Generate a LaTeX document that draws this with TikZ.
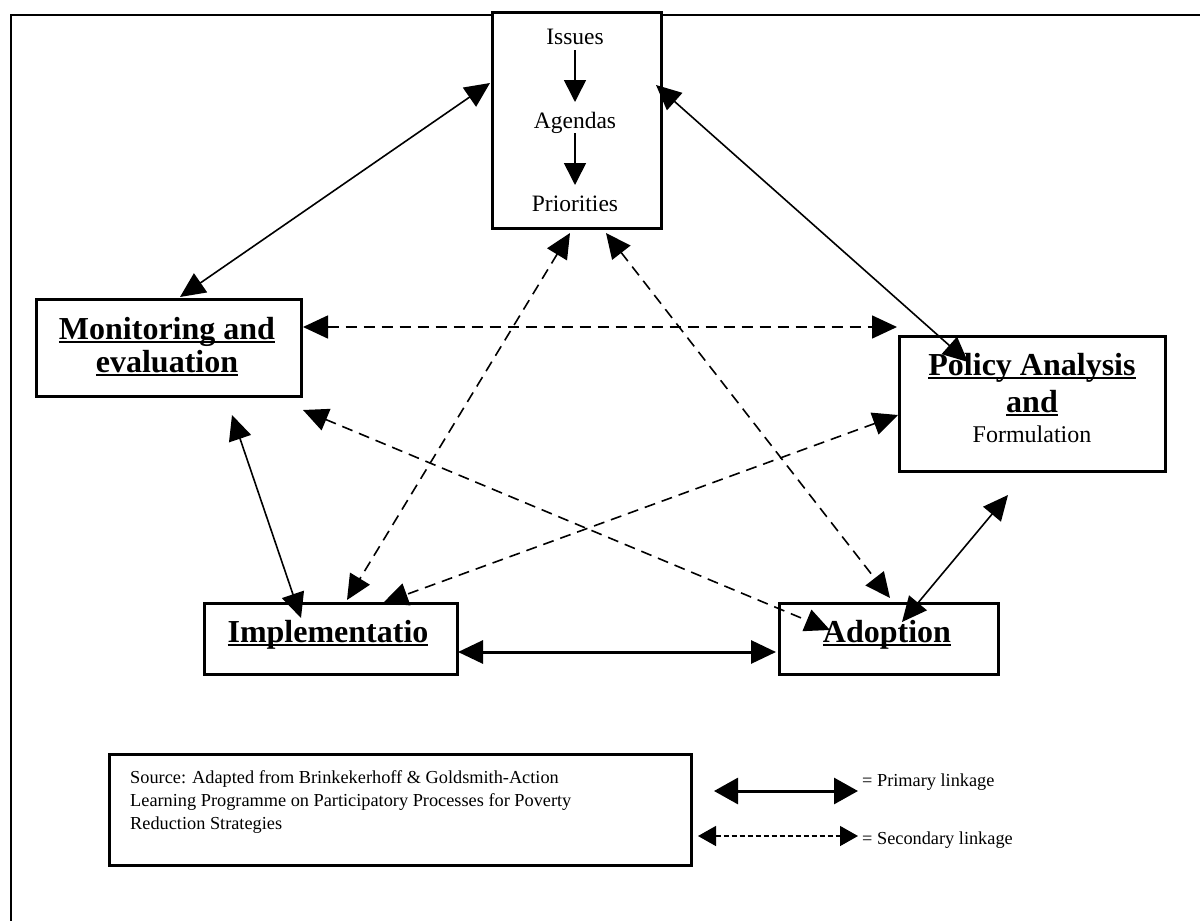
\documentclass[tikz,border=0pt]{standalone}
\usepackage{fontspec}
\setmainfont{Liberation Serif}
\usetikzlibrary{arrows.meta}
\newcommand\myul[1]{\setbox0\hbox{#1}\rlap{\rule[-3.5pt]{\wd0}{2pt}}\box0}
\tikzset{
 box/.style={draw, line width=2.5pt, fill=white, inner sep=0, anchor=north west},
 lbl/.style={anchor=base, inner sep=0, font=\fontsize{32}{32}\selectfont\bfseries},
 txt/.style={anchor=base, inner sep=0, font=\fontsize{23.5}{24}\selectfont},
 small/.style={anchor=base west, inner sep=0, font=\fontsize{18.3}{20}\selectfont},
 prim/.style={line width=1.6pt, {Triangle[length=25pt,width=23pt]}-{Triangle[length=25pt,width=23pt]}},
 sec/.style={prim, dash pattern=on 11pt off 7pt},
 inner/.style={line width=1.6pt, -{Triangle[length=22pt,width=22pt]}},
}
\begin{document}
\begin{tikzpicture}[x=1pt,y=-1pt]
\useasboundingbox (0,0) rectangle (1200,921);
% outer frame
\draw[line width=2.7pt] (11,921) -- (11,15) -- (1200,15);
% boxes
\node[box, minimum width=169pt, minimum height=216pt] (top) at (491,11) {};
\node[box, minimum width=265pt, minimum height=97pt] (mon) at (35,298) {};
\node[box, minimum width=266pt, minimum height=135pt] (pol) at (898,335) {};
\node[box, minimum width=253pt, minimum height=71pt] (imp) at (203,602) {};
\node[box, minimum width=219pt, minimum height=71pt] (ado) at (778,602) {};
\node[box, minimum width=582pt, minimum height=111pt] (src) at (108,753) {};
% texts
\node[txt] (iss) at (575,44) {Issues};
\node[txt] (age) at (575,128) {Agendas};
\node[txt] (pri) at (575,211) {Priorities};
\node[lbl] (mon1) at (167,339) {\myul{Monitoring and}};
\node[lbl] (mon2) at (167,372) {\myul{evaluation}};
\node[lbl] (pol1) at (1032,375) {\myul{Policy Analysis}};
\node[lbl] (pol2) at (1032,412) {\myul{and}};
\node[txt, font=\fontsize{24}{24}\selectfont] (pol3) at (1032,442) {Formulation};
\node[lbl] (impt) at (328,642) {\myul{Implementatio}};
\node[lbl] (adot) at (887,642) {\myul{Adoption}};
\node[small] (s1) at (130,783) {Source: Adapted from Brinkekerhoff \& Goldsmith-Action};
\node[small] (s2) at (130,806) {Learning Programme on Participatory Processes for Poverty};
\node[small] (s3) at (130,829) {Reduction Strategies};
\node[small] (l1) at (862,786) {= Primary linkage};
\node[small] (l2) at (862,844) {= Secondary linkage};
% inner arrows
\draw[inner] (575,50) -- (575,102);
\draw[inner] (575,133) -- (575,185);
% connector end points
\coordinate (c1a) at (490,83);  \coordinate (c1b) at (180,297);
\coordinate (c2a) at (656,85);  \coordinate (c2b) at (968,362);
\coordinate (c3a) at (303,327); \coordinate (c3b) at (897,327);
\coordinate (c4a) at (303,410); \coordinate (c4b) at (830,630);
\coordinate (c5a) at (898,415); \coordinate (c5b) at (383,603);
\coordinate (c6a) at (570,233); \coordinate (c6b) at (347,600);
\coordinate (c7a) at (606,233); \coordinate (c7b) at (890,598);
\coordinate (c8a) at (1008,495); \coordinate (c8b) at (902,622);
\coordinate (c9a) at (232,415); \coordinate (c9b) at (301,618);
\coordinate (c10a) at (458,652); \coordinate (c10b) at (776,652);
\draw[prim] (c1a) -- (c1b);
\draw[prim] (c2a) -- (c2b);
\draw[sec] (c3a) -- (c3b);
\draw[sec] (c4a) -- (c4b);
\draw[sec] (c5a) -- (c5b);
\draw[sec] (c6a) -- (c6b);
\draw[sec] (c7a) -- (c7b);
\draw[prim] (c8a) -- (c8b);
\draw[prim] (c9a) -- (c9b);
\draw[prim, line width=3pt] (c10a) -- (c10b);
% legend
\coordinate (la) at (714,791); \coordinate (lb) at (858,791);
\coordinate (lc) at (698,836); \coordinate (ld) at (858,836);
\draw[line width=3pt, {Triangle[length=24pt,width=26pt]}-{Triangle[length=24pt,width=26pt]}] (la) -- (lb);
\draw[line width=1.4pt, dash pattern=on 5pt off 3pt, {Triangle[length=18pt,width=20pt]}-{Triangle[length=18pt,width=20pt]}] (lc) -- (ld);
\end{tikzpicture}
\end{document}
